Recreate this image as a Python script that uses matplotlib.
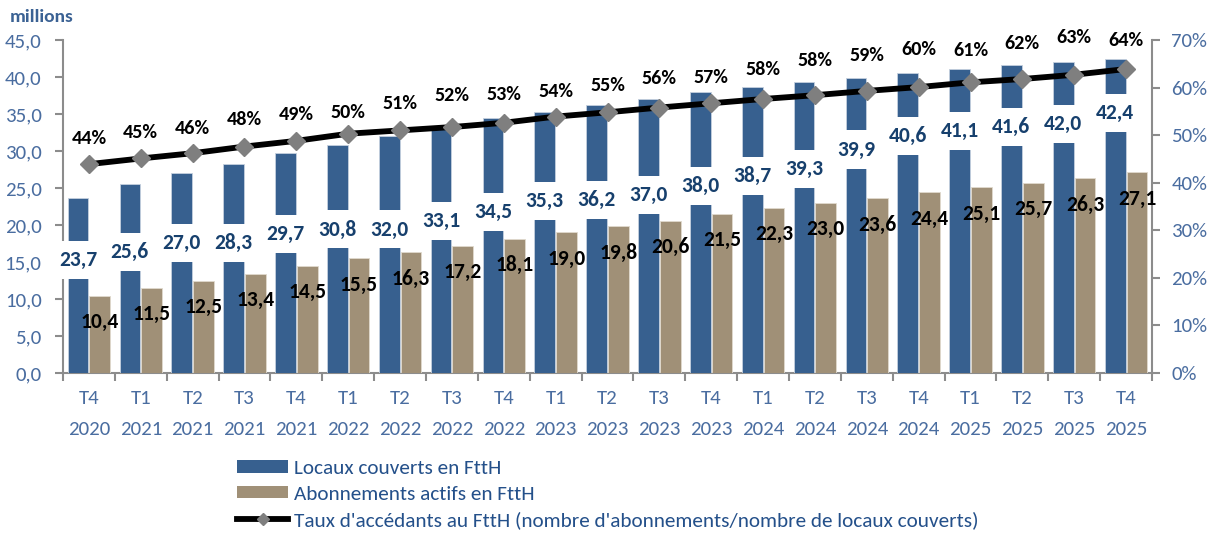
import matplotlib
matplotlib.use("Agg")
import matplotlib.pyplot as plt
from matplotlib.lines import Line2D
from matplotlib.patches import Patch
import numpy as np

plt.rcParams['font.family'] = ['Carlito', 'DejaVu Sans']

# ---- data ----
quarters = ["T4", "T1", "T2", "T3", "T4", "T1", "T2", "T3", "T4", "T1", "T2",
            "T3", "T4", "T1", "T2", "T3", "T4", "T1", "T2", "T3", "T4"]
years = ["2020", "2021", "2021", "2021", "2021", "2022", "2022", "2022", "2022",
         "2023", "2023", "2023", "2023", "2024", "2024", "2024", "2024",
         "2025", "2025", "2025", "2025"]
locaux = [23.7, 25.6, 27.0, 28.3, 29.7, 30.8, 32.0, 33.1, 34.5, 35.3, 36.2,
          37.0, 38.0, 38.7, 39.3, 39.9, 40.6, 41.1, 41.6, 42.0, 42.4]
abonnements = [10.4, 11.5, 12.5, 13.4, 14.5, 15.5, 16.3, 17.2, 18.1, 19.0, 19.8,
               20.6, 21.5, 22.3, 23.0, 23.6, 24.4, 25.1, 25.7, 26.3, 27.1]
taux = [43.9, 45.1, 46.2, 47.6, 48.8, 50.3, 51.0, 51.7, 52.6, 53.9, 54.8,
        55.8, 56.7, 57.6, 58.4, 59.3, 60.1, 61.1, 61.8, 62.7, 63.9]

series_names = ["Locaux couverts en FttH",
                "Abonnements actifs en FttH",
                "Taux d'accédants au FttH (nombre d'abonnements/nombre de locaux couverts)"]

# ---- layout (label placement) ----
blue_label_drop = [8.4, 9.3, 9.4, 10.7, 10.9, 11.4, 12.6, 12.5, 12.8, 12.1, 12.8,
                   12.9, 12.7, 12.1, 11.7, 9.7, 8.6, 8.4, 8.3, 8.3, 7.3]
tan_label_drop = 3.55
pct_label_px = [26, 26, 25, 27, 26, 21, 27, 32, 28, 25, 27,
                29, 26, 29, 35, 35, 38, 32, 36, 37, 29]

BLUE = "#37608F"
TAN = "#A09077"
NAVY = "#17406D"
TICK = "#4A6DA0"
LEG = "#24508A"
GRAY = "#8C8C8C"

fig = plt.figure(figsize=(12.16, 5.4), dpi=100)
ax = fig.add_axes([63/1216, 1-373/540, (1152-63)/1216, (373-40)/540])
ax2 = ax.twinx()

x = np.arange(len(locaux))
w = 0.40
off = 0.21
ax.bar(x - off, locaux, w, color=BLUE, edgecolor="#C5D0DE", linewidth=0.6, zorder=2)
ax.bar(x + off, abonnements, w, color=TAN, edgecolor="#E0DACE", linewidth=0.6, zorder=2)

ax.set_ylim(0, 45)
ax.set_yticks(np.arange(0, 45.1, 5))
ax.set_yticklabels([f"{t:.1f}".replace(".", ",") for t in np.arange(0, 45.1, 5)])
ax.set_xlim(-0.5, len(locaux) - 0.5)
ax.set_xticks(x)
ax.set_xticklabels([f"{q}\n{y}" for q, y in zip(quarters, years)], linespacing=2.0)
ax.set_xticks(np.arange(-0.5, len(locaux), 1), minor=True)
ax.tick_params(axis="x", which="major", length=0, colors=TICK, labelsize=15, pad=12.5)
ax.tick_params(axis="x", which="minor", length=6, color=GRAY, width=1.5)
ax.tick_params(axis="y", length=6, color=GRAY, width=1.5, labelcolor=TICK,
               labelsize=15, pad=9.5)

ax2.set_ylim(0, 70)
ax2.set_yticks(np.arange(0, 71, 10))
ax2.set_yticklabels([f"{t}%" for t in range(0, 71, 10)])
ax2.tick_params(axis="y", length=6, color=GRAY, width=1.5, labelcolor=TICK,
                labelsize=15, pad=8)

# value labels drawn on the top axes (in bar data coordinates) so they sit above the spines
for i, v in enumerate(locaux):
    ax2.text(x[i] - off, v - blue_label_drop[i], f"{v:.1f}".replace(".", ","),
             transform=ax.transData, ha="center", va="center", fontsize=15.5,
             fontweight="bold", color=NAVY, zorder=4,
             bbox=dict(boxstyle="square,pad=0.42", facecolor="white", edgecolor="none"))
for i, v in enumerate(abonnements):
    ax2.text(x[i] + off, v - tan_label_drop, f"{v:.1f}".replace(".", ","),
             transform=ax.transData, ha="center", va="center", fontsize=15.5,
             fontweight="bold", color="black", zorder=5)

ax2.plot(x, taux, color="black", linewidth=4.2, marker="D", markersize=9,
         markerfacecolor="#7F7F7F", markeredgecolor="#7F7F7F", zorder=6)
for i, v in enumerate(taux):
    ax2.annotate(f"{round(v)}%", (x[i], v), xytext=(0, pct_label_px[i]),
                 textcoords="offset pixels", ha="center", va="center",
                 fontsize=14.5, fontweight="bold", color="black", zorder=7)

for a in (ax, ax2):
    a.spines["top"].set_visible(False)
    for s in ("left", "right", "bottom"):
        a.spines[s].set_color(GRAY)
        a.spines[s].set_linewidth(1.5)
        a.spines[s].set_zorder(1)
ax.spines["right"].set_visible(False)
ax2.spines["left"].set_visible(False)
ax2.spines["bottom"].set_visible(False)

fig.text(10/1216, 1-17/540, "millions", fontsize=14, fontweight="bold",
         color="#3B6294", ha="left", va="center")

handles = [Patch(facecolor=BLUE, edgecolor="none"),
           Patch(facecolor=TAN, edgecolor="none"),
           Line2D([0], [0], color="black", linewidth=4.2, marker="D", markersize=6,
                  markerfacecolor="#7F7F7F", markeredgecolor="#7F7F7F")]
leg = fig.legend(handles, series_names, loc="upper left",
                 bbox_to_anchor=(237/1216, 1-460/540), frameon=False,
                 fontsize=15.3, handlelength=2.4, handleheight=0.52,
                 handletextpad=0.28, labelspacing=0.41, borderaxespad=0, borderpad=0)
for t in leg.get_texts():
    t.set_color(LEG)

fig.savefig("out.png", dpi=100)
